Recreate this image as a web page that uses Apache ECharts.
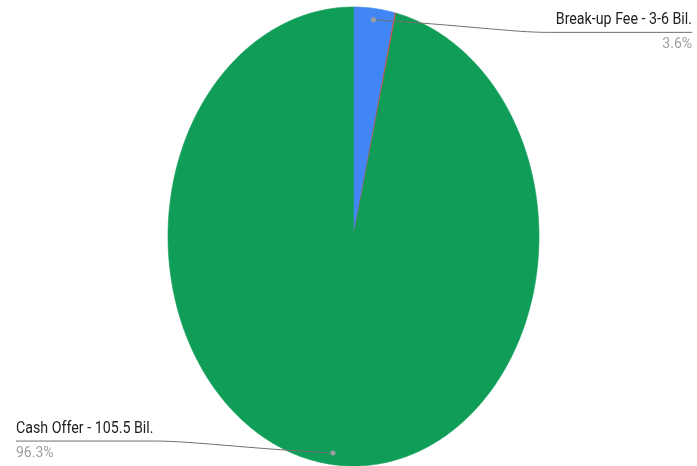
<!DOCTYPE html>
<html><head><meta charset="utf-8">
<script src="https://cdn.jsdelivr.net/npm/echarts@6/dist/echarts.min.js"></script>
<style>html,body{margin:0;padding:0;background:#fff}#c{width:697px;height:466px}</style>
</head><body><div id="c"></div>
<script>
const sliceNames = ['Break-up Fee - 3-6 Bil.', 'Other', 'Cash Offer - 105.5 Bil.'];
const sliceValues = [3.6, 0.1, 96.3];
const sliceColors = ['#4285F4', '#DB4437', '#0F9D58'];

const chart = echarts.init(document.getElementById('c'), null, {renderer: 'canvas'});
const W = 697;
const CX = 353.5, CY = 236.5, RX = 185.5, RY = 229.5;
const NAME_SX = 0.89, PCT_SX = 1.0;
const total = sliceValues.reduce((a, b) => a + b, 0);
const starts = []; let acc = 0;
sliceValues.forEach(v => { starts.push(acc); acc += v; });

const measureCtx = document.createElement('canvas').getContext('2d');
function measure(t, f) { measureCtx.font = f; return measureCtx.measureText(t).width; }
const NAME_FONT = '16px Roboto', PCT_FONT = '14px Roboto';

function pt(frac, r) {
  const a = frac * 2 * Math.PI;
  return [CX + RX * r * Math.sin(a), CY - RY * r * Math.cos(a)];
}

function renderItem(params, api) {
  const i = params.dataIndex;
  const v = api.value(0);
  const f0 = starts[i] / total, f1 = (starts[i] + v) / total;
  const pts = [[CX, CY]];
  const n = Math.max(2, Math.ceil((f1 - f0) * 720));
  for (let k = 0; k <= n; k++) pts.push(pt(f0 + (f1 - f0) * k / n, 1));
  const children = [{
    type: 'polygon', shape: {points: pts},
    style: {fill: sliceColors[i], stroke: sliceColors[i], lineWidth: 0.6}
  }];
  const pct = v / total * 100;
  if (pct >= 1) {
    const mid = (f0 + f1) / 2;
    const dot = pt(mid, 0.95);
    const right = Math.sin(mid * 2 * Math.PI) >= 0;
    const uy = dot[1] < CY ? dot[1] + 12.5 : dot[1] - 12;
    const name = sliceNames[i];
    const w = measure(name, NAME_FONT) * NAME_SX;
    let edge, join, ux1, ux2;
    if (right) {
      edge = W - 5; join = [edge - w - 8, uy]; ux1 = join[0]; ux2 = edge;
    } else {
      edge = 16; join = [edge + w + 2, uy]; ux1 = edge; ux2 = join[0];
    }
    const dx = join[0] - dot[0];
    const lineStyle = {stroke: '#707070', lineWidth: 1, fill: null};
    children.push({
      type: 'bezierCurve', z2: 10,
      shape: {x1: dot[0], y1: dot[1], cpx1: dot[0] + dx * 0.5, cpy1: dot[1] + (uy - dot[1]) * 0.4,
              cpx2: join[0] - dx * 0.2, cpy2: uy, x2: join[0], y2: uy},
      style: lineStyle
    });
    children.push({type: 'line', z2: 10, shape: {x1: ux1, y1: uy, x2: ux2, y2: uy}, style: lineStyle});
    children.push({type: 'circle', z2: 11, shape: {cx: dot[0], cy: dot[1], r: 2.5}, style: {fill: '#9e9e9e'}});
    children.push({
      type: 'text', z2: 12, x: edge, y: uy - 12.5, scaleX: NAME_SX,
      style: {text: name, font: NAME_FONT, fill: '#212121', align: right ? 'right' : 'left', verticalAlign: 'middle'}
    });
    children.push({
      type: 'text', z2: 12, x: edge, y: uy + 12.5, scaleX: PCT_SX,
      style: {text: pct.toFixed(1) + '%', font: PCT_FONT, fill: '#9e9e9e', align: right ? 'right' : 'left', verticalAlign: 'middle'}
    });
  }
  return {type: 'group', children: children};
}

chart.setOption({
  animation: false,
  series: [{
    type: 'custom',
    coordinateSystem: 'none',
    silent: true,
    data: sliceValues.map((v, i) => ({name: sliceNames[i], value: [v]})),
    renderItem: renderItem
  }]
});
</script></body></html>
